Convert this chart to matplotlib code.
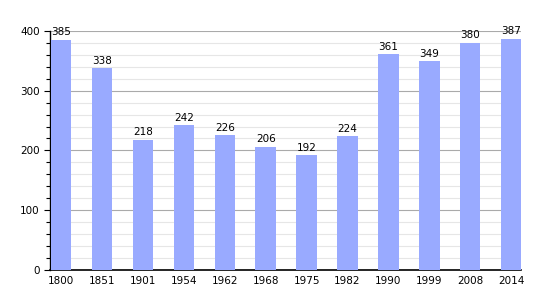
import matplotlib.pyplot as plt
from matplotlib.ticker import MultipleLocator

years = ["1800", "1851", "1901", "1954", "1962", "1968", "1975", "1982", "1990", "1999", "2008", "2014"]
population = [385, 338, 218, 242, 226, 206, 192, 224, 361, 349, 380, 387]

fig = plt.figure(figsize=(5.5, 3), dpi=100)
ax = fig.add_axes([0.091, 0.1, 0.857, 0.797])

x = list(range(len(years)))
ax.bar(x, population, width=0.5, color="#99aaff", zorder=3)
for xi, v in zip(x, population):
    ax.text(xi, v + 4, str(v), ha="center", va="bottom", fontsize=7.5, zorder=4)

ax.set_xlim(-0.27, 11.25)
ax.set_ylim(0, 400)
ax.set_xticks(x)
ax.set_xticklabels(years, fontsize=7.5)
ax.yaxis.set_major_locator(MultipleLocator(100))
ax.yaxis.set_minor_locator(MultipleLocator(20))
ax.tick_params(axis="y", labelsize=7.5, length=4, width=0.8)
ax.tick_params(axis="y", which="minor", length=3, width=0.8)
ax.tick_params(axis="x", length=0, pad=4)
ax.grid(axis="y", which="major", color="#aaaaaa", linewidth=0.8, zorder=0)
ax.grid(axis="y", which="minor", color="#e6e6e6", linewidth=0.8, zorder=0)
for s in ["top", "right"]:
    ax.spines[s].set_visible(False)
ax.spines["left"].set_linewidth(1)
ax.spines["bottom"].set_linewidth(1.2)

fig.savefig("out.png", dpi=100)
